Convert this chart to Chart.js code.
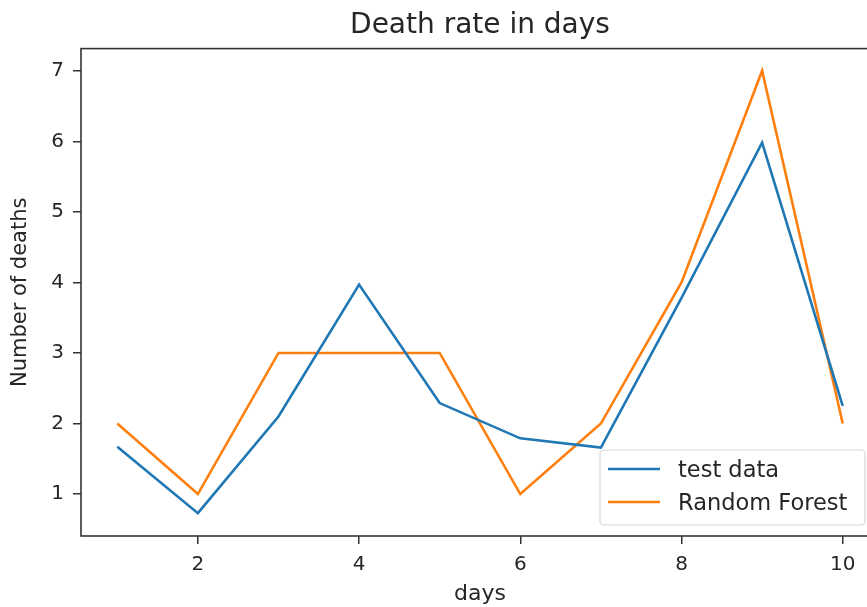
<!DOCTYPE html>
<html>
<head>
<meta charset="utf-8">
<title>Death rate in days</title>
<script src="https://cdn.jsdelivr.net/npm/chart.js@4/dist/chart.umd.min.js"></script>
<style>
    body { margin: 0; background: #fff; overflow: hidden; }
    #wrap { width: 867px; height: 607px; overflow: hidden; }
</style>
</head>
<body>
<div id="wrap">
    <canvas id="deathChart" width="900" height="607"></canvas>
</div>
<script>
// chart values
const days = [1, 2, 3, 4, 5, 6, 7, 8, 9, 10];
const testData = [1.67, 0.73, 2.1, 3.97, 2.29, 1.79, 1.66, 3.78, 5.98, 2.25];
const randomForest = [2, 1, 3, 3, 3, 1, 2, 4, 7, 2];
const seriesNames = ["test data", "Random Forest"];
const seriesColors = ["#1f77b4", "#ff7f0e"];

const textColor = "#262626";
const spineColor = "#333333";
const fontFamily = "'DejaVu Sans', sans-serif";

// matplotlib-like frame around the plot area
const framePlugin = {
    id: "frame",
    afterDraw(chart) {
        const { ctx, chartArea: a } = chart;
        ctx.save();
        ctx.strokeStyle = spineColor;
        ctx.lineWidth = 1.6;
        ctx.strokeRect(a.left, a.top, a.right - a.left, a.bottom - a.top);
        ctx.restore();
    },
};

// legend drawn inside the plot, lower right
const insideLegend = {
    id: "insideLegend",
    afterDatasetsDraw(chart) {
        const { ctx, chartArea: a } = chart;
        const boxW = 265, boxH = 75;
        const x = a.right - 14 - boxW;
        const y = a.bottom - 11 - boxH;
        ctx.save();
        ctx.fillStyle = "rgba(255,255,255,0.8)";
        ctx.strokeStyle = "#d6d6d6";
        ctx.lineWidth = 1.2;
        ctx.beginPath();
        ctx.roundRect(x, y, boxW, boxH, 4);
        ctx.fill();
        ctx.stroke();
        ctx.font = "22.5px " + fontFamily;
        ctx.textBaseline = "middle";
        chart.data.datasets.forEach((ds, i) => {
            const rowY = y + 19 + i * 33;
            ctx.strokeStyle = ds.borderColor;
            ctx.lineWidth = ds.borderWidth;
            ctx.beginPath();
            ctx.moveTo(x + 8, rowY);
            ctx.lineTo(x + 60, rowY);
            ctx.stroke();
            ctx.fillStyle = textColor;
            ctx.fillText(ds.label, x + 78, rowY + 2);
        });
        ctx.restore();
    },
};

const ctx = document.getElementById("deathChart").getContext("2d");
new Chart(ctx, {
    type: "line",
    data: {
        datasets: [
            {
                label: seriesNames[0],
                data: days.map((d, i) => ({ x: d, y: testData[i] })),
                borderColor: seriesColors[0],
                borderWidth: 2.6,
                pointRadius: 0,
                tension: 0,
                fill: false,
            },
            {
                label: seriesNames[1],
                data: days.map((d, i) => ({ x: d, y: randomForest[i] })),
                borderColor: seriesColors[1],
                borderWidth: 2.6,
                pointRadius: 0,
                tension: 0,
                fill: false,
            },
        ],
    },
    options: {
        responsive: false,
        animation: false,
        devicePixelRatio: 1,
        layout: { padding: { left: 0, right: 21, top: 0, bottom: 0 } },
        plugins: {
            legend: { display: false },
            tooltip: { enabled: false },
            title: {
                display: true,
                fullSize: false,
                text: "Death rate in days",
                color: textColor,
                font: { family: fontFamily, size: 28, weight: "normal" },
                padding: { top: 9, bottom: 6 },
            },
        },
        scales: {
            x: {
                type: "linear",
                min: 0.55,
                max: 10.45,
                afterFit(scale) { scale.height = 71; },
                ticks: {
                    stepSize: 2,
                    includeBounds: false,
                    color: textColor,
                    padding: 9,
                    font: { family: fontFamily, size: 20 },
                },
                grid: {
                    display: true,
                    drawOnChartArea: false,
                    drawTicks: true,
                    tickLength: 8,
                    color: spineColor,
                    lineWidth: 1.5,
                },
                border: { display: false },
                title: {
                    display: true,
                    text: "days",
                    color: textColor,
                    font: { family: fontFamily, size: 22 },
                    padding: { top: 0, bottom: 0 },
                },
            },
            y: {
                min: 0.406,
                max: 7.314,
                afterFit(scale) { scale.width = 81; },
                ticks: {
                    stepSize: 1,
                    includeBounds: false,
                    color: textColor,
                    padding: 9,
                    font: { family: fontFamily, size: 20 },
                },
                grid: {
                    display: true,
                    drawOnChartArea: false,
                    drawTicks: true,
                    tickLength: 8,
                    color: spineColor,
                    lineWidth: 1.5,
                },
                border: { display: false },
                title: {
                    display: true,
                    text: "Number of deaths",
                    color: textColor,
                    font: { family: fontFamily, size: 21 },
                    padding: { top: 8, bottom: 0 },
                },
            },
        },
    },
    plugins: [framePlugin, insideLegend],
});
</script>
</body>
</html>
